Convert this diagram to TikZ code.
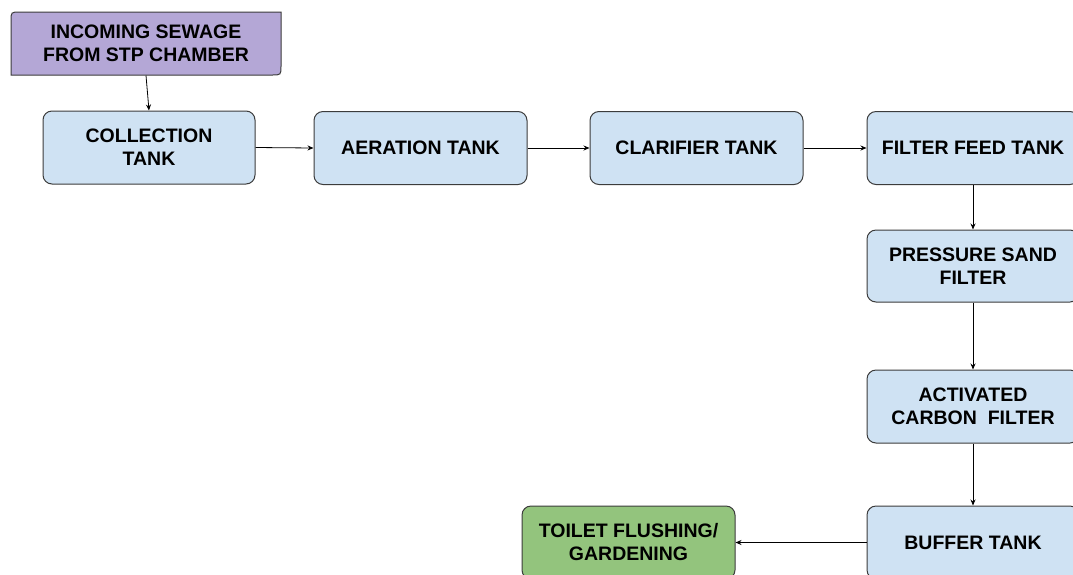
\documentclass[tikz,border=0pt]{standalone}
\usepackage{fontspec}
\setmainfont{Liberation Sans}
\usetikzlibrary{arrows.meta}
\definecolor{bluebox}{HTML}{CFE2F3}
\definecolor{purplebox}{HTML}{B4A7D6}
\definecolor{greenbox}{HTML}{93C47D}
\definecolor{edge}{HTML}{3C3C3C}
\tikzset{
  box/.style={draw=edge, line width=1pt, rounded corners=9pt, fill=bluebox,
    minimum width=212pt, minimum height=73pt, align=center,
    font=\fontsize{19.5}{23}\selectfont\bfseries, text=black},
  flow/.style={draw=black, line width=0.8pt, -{Stealth[length=6pt,width=5pt]}}
}
\begin{document}
\begin{tikzpicture}[x=1pt,y=-1pt]
\useasboundingbox (0,0) rectangle (1073,574);
\clip (0,0) rectangle (1073,574);
\fill[white] (0,0) rectangle (1073,574);
\path[draw=edge, fill=purplebox, line width=1pt]
  (11,75) -- (11,21) .. controls (11,12) .. (20,12) -- (281,12) -- (281,66)
  .. controls (281,75) .. (272,75) -- cycle;
\node[box, draw=none, fill=none, minimum width=270pt, minimum height=63pt] (in) at (146,43.5) {INCOMING SEWAGE\\FROM STP CHAMBER};
\node[box] (coll) at (149,147.5) {COLLECTION\\TANK};
\node[box, minimum width=213pt] (aer) at (420.5,148) {AERATION TANK};
\node[box, minimum width=213pt] (cla) at (696.5,148) {CLARIFIER TANK};
\node[box] (ff) at (973,148) {FILTER FEED TANK};
\node[box, minimum height=72pt] (psf) at (973,266) {PRESSURE SAND\\FILTER};
\node[box] (acf) at (973,406.5) {ACTIVATED\\CARBON\ \ FILTER};
\node[box] (buf) at (973,542.5) {BUFFER TANK};
\node[box, fill=greenbox, minimum width=213pt] (toi) at (628.5,542.5) {TOILET FLUSHING/\\GARDENING};
\draw[flow] (in.south) -- (coll.north);
\draw[flow] (coll.east) -- (aer.west);
\draw[flow] (aer.east) -- (cla.west);
\draw[flow] (cla.east) -- (ff.west);
\draw[flow] (ff.south) -- (psf.north);
\draw[flow] (psf.south) -- (acf.north);
\draw[flow] (acf.south) -- (buf.north);
\draw[flow] (buf.west) -- (toi.east);
\end{tikzpicture}
\end{document}
